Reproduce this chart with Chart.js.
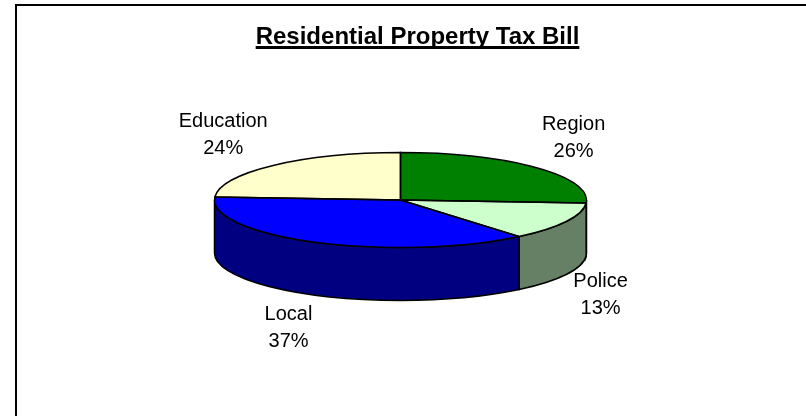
<!DOCTYPE html>
<html>
<head>
<meta charset="utf-8">
<title>Residential Property Tax Bill</title>
<script src="https://cdn.jsdelivr.net/npm/chart.js@4"></script>
<style>
  html, body { margin: 0; padding: 0; background: #fff; overflow: hidden; }
  .frame { position: absolute; left: 15px; top: 4px; width: 900px; height: 600px; border: 2px solid #000; }
  #taxChart { position: absolute; left: 0; top: 0; }
</style>
</head>
<body>
<div class="frame"></div>
<canvas id="taxChart" width="806" height="416"></canvas>
<script>
const chartTitle = "Residential Property Tax Bill";
const categories = ["Region", "Police", "Local", "Education"];
const shares = [26, 13, 37, 24];

// face colours and the darker shade used for the walls
const topColors = ["#008000", "#ccffcc", "#0000ff", "#ffffcc"];
const sideColors = ["#004000", "#668066", "#000080", "#808066"];

const TILT = 0.255;   // vertical squash of the pie face
const DEPTH = 0.285;  // wall height, as a fraction of the radius
const FONT = "'Liberation Sans', Arial, sans-serif";

const total = shares.reduce((a, b) => a + b, 0);

const pie3d = {
  id: "pie3d",
  beforeDatasetsDraw(chart) {
    const ctx = chart.ctx;
    const arcs = chart.getDatasetMeta(0).data;
    const { x, y, outerRadius: r } = arcs[0];
    const ry = r * TILT;
    const depth = r * DEPTH;

    // walls of the front half, drawn under the face
    ctx.save();
    ctx.lineWidth = 1.5;
    ctx.strokeStyle = "#000";
    arcs.forEach((arc, i) => {
      const a0 = Math.max(arc.startAngle, 0);
      const a1 = Math.min(arc.endAngle, Math.PI);
      if (a1 <= a0) return;
      ctx.beginPath();
      ctx.ellipse(x, y, r, ry, 0, a0, a1);
      ctx.ellipse(x, y + depth, r, ry, 0, a1, a0, true);
      ctx.closePath();
      ctx.fillStyle = sideColors[i];
      ctx.fill();
      ctx.stroke();
    });
    ctx.restore();

    // squash the slices the library draws into an ellipse
    ctx.save();
    ctx.translate(x, y);
    ctx.scale(1, TILT);
    ctx.translate(-x, -y);
  },
  afterDatasetsDraw(chart) {
    const ctx = chart.ctx;
    ctx.restore();

    const arcs = chart.getDatasetMeta(0).data;
    const { x, y, outerRadius: r } = arcs[0];
    const ry = r * TILT;
    const depth = r * DEPTH;

    ctx.save();
    ctx.lineWidth = 1.5;
    ctx.strokeStyle = "#000";
    arcs.forEach((arc) => {
      ctx.beginPath();
      ctx.moveTo(x, y);
      ctx.ellipse(x, y, r, ry, 0, arc.startAngle, arc.endAngle);
      ctx.closePath();
      ctx.stroke();
    });

    // category and percentage beside each slice
    ctx.font = "20px " + FONT;
    ctx.fillStyle = "#000";
    ctx.textAlign = "center";
    ctx.textBaseline = "middle";
    arcs.forEach((arc, i) => {
      const mid = (arc.startAngle + arc.endAngle) / 2;
      const cos = Math.cos(mid);
      const sin = Math.sin(mid);
      const lines = [categories[i], Math.round((shares[i] / total) * 100) + "%"];
      const halfW = Math.max(...lines.map((t) => ctx.measureText(t).width)) / 2;
      const halfH = 20 * Math.min(1, Math.abs(sin) * 1.5);
      const ax = x + r * cos;
      const ay = y + ry * sin + (sin > 0 ? depth : 0);
      const lx = ax + cos * 8 + Math.sign(cos) * halfW;
      const ly = ay + sin * 14 + Math.sign(sin) * halfH;
      ctx.fillText(lines[0], lx, ly - 13.5);
      ctx.fillText(lines[1], lx, ly + 13.5);
    });
    ctx.restore();
  },
  afterDraw(chart) {
    const ctx = chart.ctx;
    ctx.save();
    ctx.font = "bold 24px " + FONT;
    ctx.fillStyle = "#000";
    ctx.textAlign = "center";
    ctx.textBaseline = "alphabetic";
    const tx = 417.5;
    ctx.fillText(chartTitle, tx, 43.5);
    const w = ctx.measureText(chartTitle).width;
    ctx.fillRect(tx - w / 2, 46, w, 3);
    ctx.restore();
  }
};

new Chart(document.getElementById("taxChart"), {
  type: "pie",
  data: {
    labels: categories,
    datasets: [
      {
        data: shares,
        backgroundColor: topColors,
        borderWidth: 0,
        clip: false
      }
    ]
  },
  options: {
    responsive: false,
    animation: false,
    events: [],
    radius: 186,
    layout: { padding: { left: 0, right: 5, top: 0, bottom: 16 } },
    plugins: {
      legend: { display: false },
      tooltip: { enabled: false }
    }
  },
  plugins: [pie3d]
});
</script>
</body>
</html>
